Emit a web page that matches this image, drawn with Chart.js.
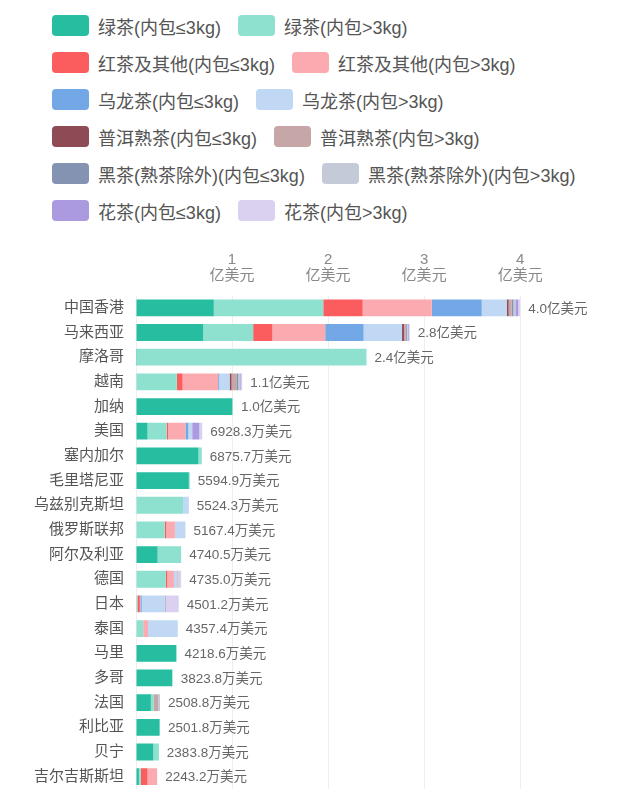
<!DOCTYPE html>
<html>
<head>
<meta charset="utf-8">
<script src="https://cdn.jsdelivr.net/npm/chart.js@4.4.1/dist/chart.umd.min.js"></script>
<style>
  html, body { margin: 0; background: #fff; overflow: hidden; font-family: "Liberation Sans", "Noto Sans CJK SC", sans-serif; }
  #legend { position: absolute; left: 52px; top: 7px; }
  .row { display: flex; align-items: center; height: 37px; }
  .item { display: flex; align-items: center; margin-right: 17px; }
  .sw { width: 37px; height: 21px; border-radius: 4px; margin-right: 9px; }
  .txt { font-size: 18px; color: #555; white-space: nowrap; }
  #wrap { position: absolute; left: 0; top: 228px; width: 635px; height: 582px; }
</style>
</head>
<body>
<div id="legend"></div>
<div id="wrap"><canvas id="c"></canvas></div>
<script>
// 国家/地区
const countries = ['中国香港', '马来西亚', '摩洛哥', '越南', '加纳', '美国', '塞内加尔', '毛里塔尼亚', '乌兹别克斯坦', '俄罗斯联邦',
    '阿尔及利亚', '德国', '日本', '泰国', '马里', '多哥', '法国', '利比亚', '贝宁', '吉尔吉斯斯坦'];

// 右侧总额标签
const totalLabels = ['4.0亿美元', '2.8亿美元', '2.4亿美元', '1.1亿美元', '1.0亿美元', '6928.3万美元', '6875.7万美元', '5594.9万美元',
    '5524.3万美元', '5167.4万美元', '4740.5万美元', '4735.0万美元', '4501.2万美元', '4357.4万美元', '4218.6万美元', '3823.8万美元',
    '2508.8万美元', '2501.8万美元', '2383.8万美元', '2243.2万美元'];

const seriesNames = ['绿茶(内包≤3kg)', '绿茶(内包>3kg)', '红茶及其他(内包≤3kg)', '红茶及其他(内包>3kg)', '乌龙茶(内包≤3kg)', '乌龙茶(内包>3kg)',
    '普洱熟茶(内包≤3kg)', '普洱熟茶(内包>3kg)', '黑茶(熟茶除外)(内包≤3kg)', '黑茶(熟茶除外)(内包>3kg)', '花茶(内包≤3kg)', '花茶(内包>3kg)'];

const seriesColors = ['#26bda0', '#8ee0cf', '#fb5c5e', '#fbaab0', '#72a8e6', '#c0d8f3',
    '#8e4a55', '#c7a6a8', '#8593b3', '#c4cad8', '#ac9ae0', '#d9d1ef'];

// 数值 (亿美元), 按国家顺序
const greenSmall  = [0.81, 0.70, 0.01, 0.005, 1.00, 0.12, 0.65, 0.55, 0, 0, 0.225, 0, 0.005, 0, 0.42, 0.375, 0.155, 0.245, 0.18, 0.03];
const greenLarge  = [1.14, 0.52, 2.39, 0.42, 0.01, 0.20, 0.035, 0.01, 0.49, 0.30, 0.245, 0.31, 0.01, 0.075, 0.002, 0.007, 0.03, 0.005, 0.058, 0.02];
const blackSmall  = [0.41, 0.20, 0, 0.06, 0, 0.015, 0, 0, 0, 0.015, 0, 0.015, 0.025, 0, 0, 0, 0, 0, 0, 0.07];
const blackLarge  = [0.72, 0.55, 0, 0.37, 0, 0.18, 0, 0, 0, 0.09, 0, 0.07, 0.005, 0.05, 0, 0, 0, 0, 0, 0.10];
const oolongSmall = [0.52, 0.40, 0, 0.01, 0, 0.03, 0, 0, 0, 0, 0, 0, 0.015, 0, 0, 0, 0, 0, 0, 0];
const oolongLarge = [0.26, 0.40, 0, 0.11, 0, 0.04, 0, 0, 0.06, 0.11, 0, 0.025, 0.24, 0.31, 0, 0, 0, 0, 0, 0];
const puerSmall   = [0.02, 0.02, 0, 0.02, 0, 0, 0, 0, 0, 0, 0, 0, 0.005, 0, 0, 0, 0, 0, 0, 0];
const puerLarge   = [0.03, 0.02, 0, 0.05, 0, 0, 0, 0, 0, 0, 0, 0.005, 0, 0, 0, 0, 0.045, 0, 0, 0];
const darkSmall   = [0.02, 0.01, 0, 0.02, 0, 0, 0, 0, 0, 0, 0, 0, 0, 0, 0, 0, 0, 0, 0, 0];
const darkLarge   = [0.02, 0.01, 0, 0.02, 0, 0, 0, 0, 0, 0, 0, 0.02, 0, 0, 0, 0, 0.02, 0, 0, 0];
const flowerSmall = [0.03, 0.01, 0, 0.01, 0, 0.075, 0, 0, 0, 0, 0, 0, 0, 0, 0, 0, 0, 0, 0, 0];
const flowerLarge = [0.02, 0.01, 0, 0.01, 0, 0.03, 0, 0, 0, 0, 0, 0.025, 0.14, 0, 0, 0, 0, 0, 0, 0];

const seriesData = [greenSmall, greenLarge, blackSmall, blackLarge, oolongSmall, oolongLarge,
    puerSmall, puerLarge, darkSmall, darkLarge, flowerSmall, flowerLarge];

const fontCN = '"Liberation Sans", "Noto Sans CJK SC", sans-serif';

// 图例 (每行两项)
const legend = document.getElementById('legend');
for (let r = 0; r < seriesNames.length; r += 2) {
    const row = document.createElement('div');
    row.className = 'row';
    for (let k = r; k < r + 2; k++) {
        const item = document.createElement('div');
        item.className = 'item';
        item.innerHTML = '<div class="sw" style="background:' + seriesColors[k] + '"></div><span class="txt">' + seriesNames[k] + '</span>';
        row.appendChild(item);
    }
    legend.appendChild(row);
}

// 总额标签
const totalsPlugin = {
    id: 'totals',
    afterDatasetsDraw(chart) {
        const c = chart.ctx;
        const xs = chart.scales.x, ys = chart.scales.y;
        c.save();
        c.font = '13.5px ' + fontCN;
        c.fillStyle = '#666';
        c.textAlign = 'left';
        c.textBaseline = 'middle';
        countries.forEach(function (name, i) {
            let sum = 0;
            seriesData.forEach(function (d) { sum += d[i]; });
            c.fillText(totalLabels[i], xs.getPixelForValue(sum) + 8, ys.getPixelForValue(i) + 1);
        });
        c.restore();
    }
};

const ctx = document.getElementById('c').getContext('2d');
const teaChart = new Chart(ctx, {
    type: 'bar',
    data: {
        labels: countries,
        datasets: seriesNames.map(function (name, k) {
            return {
                label: name,
                data: seriesData[k],
                backgroundColor: seriesColors[k],
                borderWidth: 0,
                barPercentage: 0.68,
                categoryPercentage: 1
            };
        })
    },
    options: {
        indexAxis: 'y',
        responsive: true,
        maintainAspectRatio: false,
        animation: false,
        layout: { padding: { top: 12, right: 38, bottom: 0, left: 0 } },
        scales: {
            x: {
                position: 'top',
                stacked: true,
                min: 0,
                max: 4.8,
                border: { display: false },
                grid: { color: '#eeeeee', drawTicks: false },
                ticks: {
                    stepSize: 1,
                    includeBounds: false,
                    padding: 12,
                    color: '#888',
                    font: { size: 15, family: fontCN, lineHeight: 1.05 },
                    callback: function (v) {
                        return v === 0 ? '' : [String(v), '亿美元'];
                    }
                }
            },
            y: {
                stacked: true,
                border: { display: false },
                grid: { display: false, drawTicks: false },
                ticks: {
                    color: '#555',
                    padding: 12,
                    font: { size: 15, family: fontCN }
                },
                afterFit: function (scale) { scale.width = 136; }
            }
        },
        plugins: {
            legend: { display: false },
            tooltip: { enabled: false }
        }
    },
    plugins: [totalsPlugin]
});
</script>
</body>
</html>
